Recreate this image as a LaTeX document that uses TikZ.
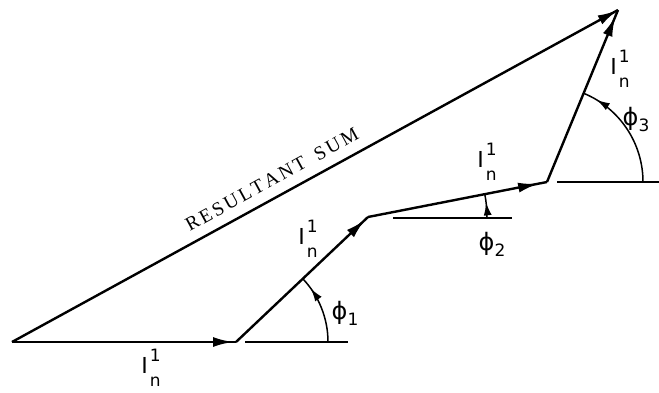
\documentclass[tikz,border=0pt]{standalone}
\usepackage{fontspec}
\setmainfont{Liberation Serif}
\newfontfamily\labfont{DejaVu Sans}
\newfontfamily\phifont{DejaVu Sans}
\usetikzlibrary{arrows.meta,decorations.markings}
\newcommand{\Inone}{{\labfont\fontsize{22}{22}\selectfont I\hspace{2pt}\fontsize{17}{25}\selectfont\begin{tabular}{@{}c@{}}1\\n\end{tabular}}}
\newcommand{\philab}[1]{{\phifont\fontsize{24}{24}\selectfont ϕ\raisebox{-6pt}{\labfont\fontsize{17}{17}\selectfont #1}}}
\newcommand{\ls}{\kern2.6pt}
\begin{document}
\begin{tikzpicture}[x=1pt,y=1pt,
  vec/.style={line width=2.4pt, postaction={decorate},
    decoration={markings, mark=at position #1 with {\arrow{Latex[length=20pt,width=10pt]}}}},
  refline/.style={line width=2pt},
  ang/.style={line width=1.5pt, postaction={decorate},
    decoration={markings, mark=at position #1 with {\arrow{Latex[length=13pt,width=8pt]}}}},
  lab/.style={inner sep=0pt}]
\useasboundingbox (0,0) rectangle (659,392);
\coordinate (O) at (12,50);
\coordinate (P1) at (236,50);
\coordinate (P2) at (368,175);
\coordinate (P3) at (547,210);
\coordinate (P4) at (618,382);
\coordinate (H1a) at (245,50);
\coordinate (H1b) at (348,50);
\coordinate (H2a) at (393,174);
\coordinate (H2b) at (512,174);
\coordinate (H3a) at (557,210);
\coordinate (H3b) at (659,210);
% vectors
\draw[vec=-3pt] (O) -- (P1);
\draw[vec=-4pt] (P1) -- (P2);
\draw[vec=-9pt] (P2) -- (P3);
\draw[vec=-7pt] (P3) -- (P4);
\draw[vec=-0.5pt] (O) -- (P4);
% reference lines
\draw[refline] (H1a) -- (H1b);
\draw[refline] (H2a) -- (H2b);
\draw[refline] (H3a) -- (H3b);
% angle arcs
\draw[ang=0.82] ([xshift=92pt]P1) arc[start angle=0,end angle=43.4,radius=92pt];
\draw[ang=0.64] ([xshift=119pt]P2) arc[start angle=0,end angle=11.06,radius=119pt];
\draw[ang=0.87] ([xshift=96pt]P3) arc[start angle=0,end angle=67.57,radius=96pt];
% labels
\node[lab] (l1) at (151,23) {\Inone};
\node[lab] (l2) at (308,152) {\Inone};
\node[lab] (l3) at (487,229) {\Inone};
\node[lab] (l4) at (620,322) {\Inone};
\node[lab] (f1) at (345,79) {\philab{1}};
\node[lab] (f2) at (492,148) {\philab{2}};
\node[lab] (f3) at (636,272) {\philab{3}};
\node[lab, rotate=28.7, anchor=base] (rs) at (275,207) {\fontsize{19.5}{19.5}\selectfont R\ls E\ls S\ls U\ls L\ls T\ls A\ls N\ls T\hspace{12pt}S\ls U\ls M};
\end{tikzpicture}
\end{document}
